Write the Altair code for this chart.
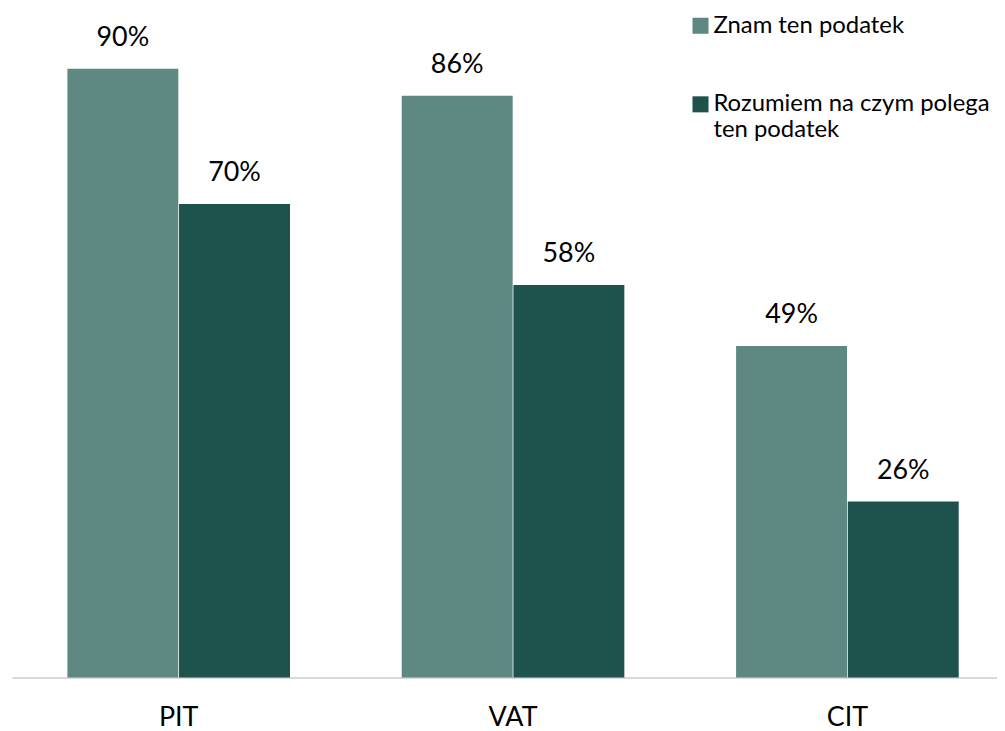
import altair as alt
import pandas as pd

categories = ["PIT", "VAT", "CIT"]
series = ["Znam ten podatek", "Rozumiem na czym polega ten podatek"]
znam = [90, 86, 49]
rozumiem = [70, 58, 26]
colors = ["#5f8882", "#1e524d"]

rows = []
for i, c in enumerate(categories):
    rows.append({"cat": c, "series": series[0], "order": 0, "value": znam[i]})
    rows.append({"cat": c, "series": series[1], "order": 1, "value": rozumiem[i]})
df = pd.DataFrame(rows)

FONT = "Lato"

x = alt.X("cat:N", sort=categories, title=None,
          scale=alt.Scale(paddingInner=0.332, paddingOuter=0.139, align=0.592),
          axis=alt.Axis(labelAngle=0, labelFontSize=27, labelColor="#000000",
                        labelFont=FONT, labelPadding=27, ticks=False,
                        domainColor="#d9d9d9", domainWidth=2))
xo = alt.XOffset("series:N", sort=series, scale=alt.Scale(paddingInner=0, paddingOuter=0))
y = alt.Y("value:Q", scale=alt.Scale(domain=[0, 98.7], nice=False, zero=True), axis=None)

bars = alt.Chart(df).mark_bar(size=111.5).encode(
    x=x, xOffset=xo, y=y,
    color=alt.Color("series:N", sort=series,
                    scale=alt.Scale(domain=series, range=colors),
                    legend=alt.Legend(
                        title=None, orient="none", legendX=680, legendY=4,
                        symbolType="square", symbolSize=260, symbolStrokeWidth=0,
                        labelFontSize=24, labelFont=FONT, labelColor="#000000",
                        labelLimit=400, rowPadding=55, labelOffset=1, padding=0,
                        labelExpr="datum.label == 'Znam ten podatek' ? datum.label : ['Rozumiem na czym polega', 'ten podatek']",
                    )),
)

labels = alt.Chart(df).transform_calculate(
    txt="datum.value + '%'"
).mark_text(fontSize=27, font=FONT, color="#000000", baseline="alphabetic", dy=-23).encode(
    x=x, xOffset=xo, y=y, text="txt:N"
)

chart = alt.layer(bars, labels).properties(
    width=990, height=671,
    padding={"left": 4, "top": 0, "right": 0, "bottom": 0},
).configure_view(stroke=None).configure_axis(grid=False)

chart.save("out.html", embed_options={"renderer": "svg", "actions": False})
